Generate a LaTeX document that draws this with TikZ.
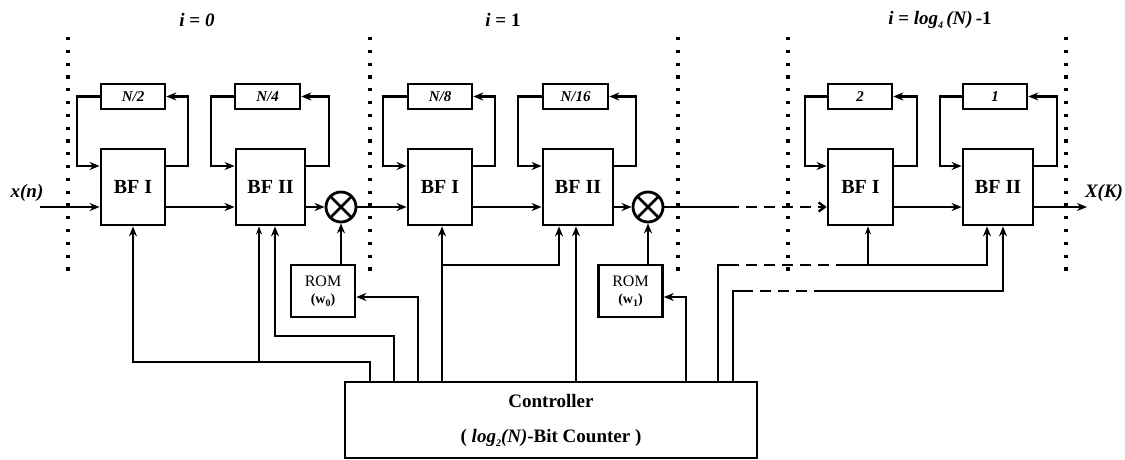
\documentclass[tikz,border=0pt]{standalone}
\usepackage{fontspec}
\setmainfont{Liberation Serif}
\usetikzlibrary{arrows.meta}
\newcommand{\lsub}[1]{\raisebox{-0.45ex}{\fontsize{10}{10}\selectfont #1}}
\begin{document}
\begin{tikzpicture}[x=1pt,y=-1pt,
  blk/.style={draw, line width=2.8pt, minimum height=76pt, inner sep=0pt, font=\fontsize{20}{20}\selectfont\bfseries},
  dly/.style={draw, line width=2.6pt, minimum height=25pt, inner sep=0pt, font=\fontsize{15}{15}\selectfont\bfseries\itshape},
  rom/.style={draw, line width=2.6pt, minimum width=64pt, minimum height=52pt, inner sep=0pt, align=center, font=\fontsize{16}{18}\selectfont},
  mult/.style={draw, circle, line width=2.8pt, minimum size=30pt, inner sep=0pt,
    path picture={\draw[line width=2.6pt] (path picture bounding box.north west) -- (path picture bounding box.south east)
      (path picture bounding box.north east) -- (path picture bounding box.south west);}},
  wire/.style={line width=2.4pt},
  arr/.style={wire, -{Stealth[length=10pt,width=8pt]}},
  thinarr/.style={line width=1.3pt, -{Stealth[length=8pt,width=6pt]}},
  dsh/.style={wire, dash pattern=on 11pt off 7pt},
  dotline/.style={line width=3.2pt, dash pattern=on 3.2pt off 9.6pt},
  lbl/.style={font=\fontsize{19}{19}\selectfont\bfseries\itshape, inner sep=0pt}
]
\useasboundingbox (0,0) rectangle (1125,460);

% separators
\foreach \x in {68,370,678,788,1066} \draw[dotline] (\x,37) -- (\x,272);

% headers
\node[lbl] (h0) at (197,20) {i {\upshape =} 0};
\node[lbl] (h1) at (503,20) {i {\upshape =} {\upshape 1}};
\node[lbl] (h2) at (940,20) {i {\upshape =} log\lsub{4}\,(N)\,{\upshape -1}};

% butterflies
\node[blk, minimum width=64pt] (bf0a) at (133,187) {BF I};
\node[blk, minimum width=69pt] (bf0b) at (270.5,187) {BF II};
\node[blk, minimum width=64pt] (bf1a) at (440,187) {BF I};
\node[blk, minimum width=70pt] (bf1b) at (578,187) {BF II};
\node[blk, minimum width=65pt] (bf2a) at (860.5,187) {BF I};
\node[blk, minimum width=70pt] (bf2b) at (998,187) {BF II};

% delays
\node[dly, minimum width=64pt] (d0a) at (133,96.5) {N/2};
\node[dly, minimum width=65pt] (d0b) at (267.5,96.5) {N/4};
\node[dly, minimum width=64pt] (d1a) at (440,96.5) {N/8};
\node[dly, minimum width=65pt] (d1b) at (575.5,96.5) {N/16};
\node[dly, minimum width=64pt] (d2a) at (860,96.5) {2};
\node[dly, minimum width=64pt] (d2b) at (995,96.5) {1};

% multipliers and ROMs
\node[mult] (mul0) at (341,207) {};
\node[mult] (mul1) at (648,207) {};
\node[rom] (rom0) at (323,291) {ROM\\[-1pt]{\bfseries\fontsize{14}{14}\selectfont (w\lsub{0})}};
\node[rom] (rom1) at (630.5,291) {ROM\\[-1pt]{\bfseries\fontsize{14}{14}\selectfont (w\lsub{1})}};

% controller
\node[draw, line width=2.8pt, minimum width=412pt, minimum height=76pt, inner sep=0pt] (ctrl) at (551,420) {};
\node[font=\fontsize{19}{19}\selectfont\bfseries, inner sep=0pt] (ct1) at (551,401) {Controller};
\node[font=\fontsize{19}{19}\selectfont\bfseries, inner sep=0pt] (ct2) at (551,438) {( {\itshape log\lsub{2}(N)}-Bit Counter )};

% io labels
\node[lbl] (xn) at (27,193) {x(n)};
\node[lbl] (xk) at (1104,193) {X(K)};

% feedback loops
\foreach \n/\rx/\lx in {0a/188/77, 0b/329/211, 1a/495/383, 1b/636/518, 2a/917/805, 2b/1057/940} {
  \coordinate (r\n) at (\rx,166);
  \coordinate (l\n) at (\lx,166);
  \draw[arr] (bf\n.east |- r\n) -- (r\n) |- (d\n.east);
  \draw[arr] (d\n.west) -| (l\n) -- (bf\n.west |- l\n);
}

% main data path
\coordinate (xin) at (40,207);
\coordinate (ds0) at (728,207);
\coordinate (xout) at (1087,207);
\draw[arr] (xin) -- (bf0a.west |- xin);
\draw[arr] (bf0a.east |- xin) -- (bf0b.west |- xin);
\draw[arr] (bf0b.east |- xin) -- (mul0.west);
\draw[arr] (mul0.east) -- (bf1a.west |- xin);
\draw[arr] (bf1a.east |- xin) -- (bf1b.west |- xin);
\draw[arr] (bf1b.east |- xin) -- (mul1.west);
\draw[wire] (mul1.east) -- (ds0);
\draw[dsh, -{Straight Barb[length=6pt,width=9pt]}] (ds0) -- (bf2a.west |- xin);
\draw[arr] (bf2a.east |- xin) -- (bf2b.west |- xin);
\draw[arr] (bf2b.east |- xin) -- (xout);

% ROM to multipliers
\draw[arr] (mul0.south |- rom0.north) -- (mul0.south);
\draw[arr] (mul1.south |- rom1.north) -- (mul1.south);

% controller lines, stage 0
\coordinate (k1) at (370,362);
\coordinate (j1) at (259,362);
\draw[arr] (ctrl.north -| k1) -- (k1) -| (bf0a.south);
\draw[thinarr] (j1) -- (j1 |- bf0b.south);
\coordinate (k2) at (394,336);
\coordinate (t2) at (275,336);
\draw[arr] (ctrl.north -| k2) -- (k2) -- (t2) -- (t2 |- bf0b.south);
\coordinate (k3) at (418,297);
\draw[arr] (ctrl.north -| k3) -- (k3) -- (rom0.east |- k3);

% controller lines, stage 1
\coordinate (k4) at (442,265);
\coordinate (t4) at (559,265);
\draw[arr] (ctrl.north -| k4) -- (k4 |- bf1a.south);
\draw[arr] (k4) -- (t4) -- (t4 |- bf1b.south);
\coordinate (k5) at (576,300);
\draw[arr] (ctrl.north -| k5) -- (k5 |- bf1b.south);
\coordinate (k6) at (686,297);
\draw[arr] (ctrl.north -| k6) -- (k6) -- (rom1.east |- k6);

% controller lines, last stage
\coordinate (k7) at (718,265);
\coordinate (k7a) at (728,265);
\coordinate (k7b) at (837,265);
\coordinate (j7) at (868,265);
\coordinate (t7) at (987,265);
\draw[wire] (ctrl.north -| k7) -- (k7) -- (k7a);
\draw[dsh] (k7a) -- (k7b);
\draw[arr] (k7b) -- (t7) -- (t7 |- bf2b.south);
\draw[thinarr] (j7) -- (j7 |- bf2a.south);
\coordinate (k8) at (733,291);
\coordinate (k8a) at (742,291);
\coordinate (k8b) at (822,291);
\coordinate (t8) at (1003,291);
\draw[wire] (ctrl.north -| k8) -- (k8) -- (k8a);
\draw[dsh] (k8a) -- (k8b);
\draw[arr] (k8b) -- (t8) -- (t8 |- bf2b.south);
\end{tikzpicture}
\end{document}
